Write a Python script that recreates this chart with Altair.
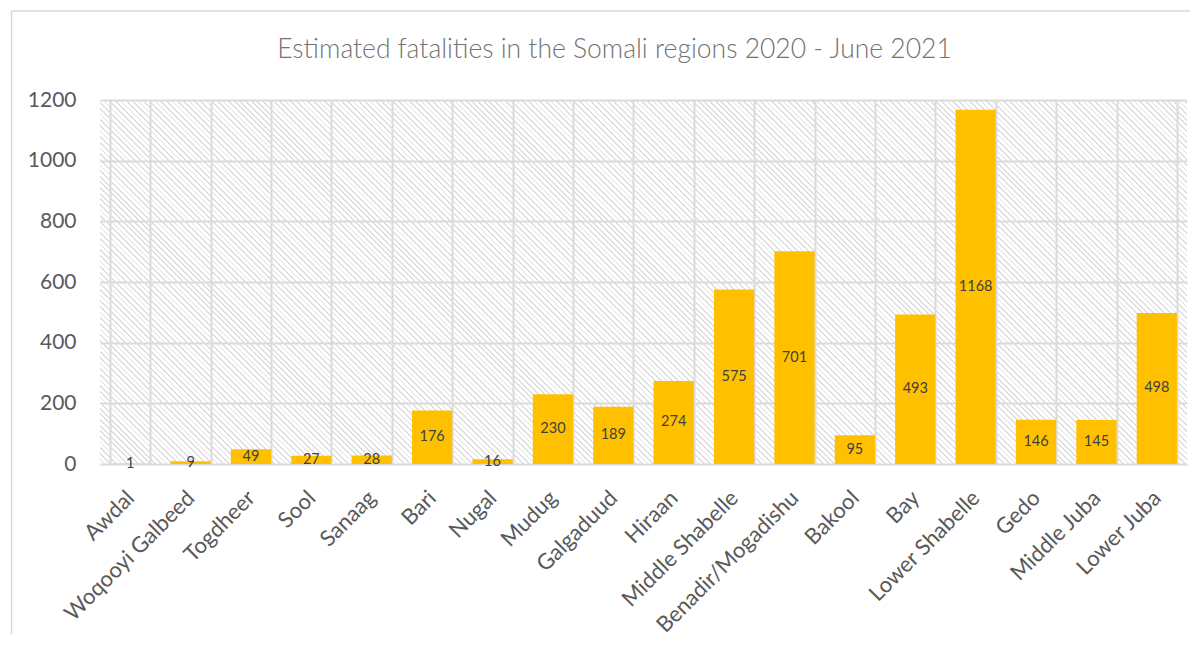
import altair as alt
import pandas as pd

regions = ["Awdal", "Woqooyi Galbeed", "Togdheer", "Sool", "Sanaag", "Bari", "Nugal",
           "Mudug", "Galgaduud", "Hiraan", "Middle Shabelle", "Benadir/Mogadishu",
           "Bakool", "Bay", "Lower Shabelle", "Gedo", "Middle Juba", "Lower Juba"]
fatalities = [1, 9, 49, 27, 28, 176, 16, 230, 189, 274, 575, 701, 95, 493, 1168, 146, 145, 498]
y_ticks = [0, 200, 400, 600, 800, 1000, 1200]
title_text = "Estimated fatalities in the Somali regions 2020 - June 2021"

df = pd.DataFrame({"region": regions, "fatalities": fatalities})

W, H = 1087, 364
GRID = "#d9d9d9"
LABEL = "#595959"
FONT = "Lato"

# hatched background (diagonal stripes) as a linear gradient
r = H / W
k = (1 + r) / (1 + r * r)
ext = 0.2
x1, y1 = -ext * k, 1 + ext * r * k
x2, y2 = (1 + ext) * k, 1 - (1 + ext) * r * k
period_px = 4.0
span_px = (1 + 2 * ext) * (W + H) / 2 ** 0.5
n = int(span_px / period_px)
clear = "rgba(255,255,255,0)"
gray = "#dedede"
stops = []
for i in range(n):
    a = i / n
    b = (i + 0.3) / n
    stops += [alt.GradientStop(color=clear, offset=a),
              alt.GradientStop(color=gray, offset=a),
              alt.GradientStop(color=gray, offset=b),
              alt.GradientStop(color=clear, offset=b)]
stops.append(alt.GradientStop(color=clear, offset=1))
hatch_fill = alt.Gradient(gradient="linear", stops=stops, x1=x1, y1=y1, x2=x2, y2=y2)

one = alt.InlineData(values=[{"a": 1}])

y_scale = alt.Scale(domain=[0, 1200], nice=False)
x_scale = alt.Scale(paddingInner=1 / 3, paddingOuter=1 / 6)

x_axis = alt.Axis(title=None, labelAngle=-45, labelAlign="right", labelBaseline="middle",
                  labelPadding=30, ticks=False, domain=False, grid=True, tickBand="extent",
                  gridColor=GRID, gridWidth=2, labelFont=FONT, labelFontSize=22,
                  labelColor=LABEL, labelOverlap=False, labelLimit=400)
y_axis = alt.Axis(title=None, values=y_ticks, format="d", grid=True, ticks=False, domain=False,
                  gridColor=GRID, gridWidth=2, labelPadding=24, labelFont=FONT,
                  labelFontSize=21, labelColor=LABEL)

hatch = alt.Chart(one).mark_rect(fill=hatch_fill).encode(
    y=alt.YDatum(0, scale=y_scale, axis=y_axis),
    y2=alt.Y2Datum(1200),
)

bars = alt.Chart(df).mark_bar(color="#FFC000").encode(
    x=alt.X("region:N", sort=regions, scale=x_scale, axis=x_axis),
    y=alt.Y("fatalities:Q", scale=y_scale, axis=y_axis),
)

labels = alt.Chart(df).transform_calculate(mid="datum.fatalities / 2").mark_text(
    font=FONT, fontSize=14.5, color="#404040", baseline="middle", align="center"
).encode(
    x=alt.X("region:N", sort=regions, scale=x_scale, axis=x_axis),
    y=alt.Y("mid:Q", scale=y_scale, axis=y_axis),
    text=alt.Text("fatalities:Q"),
)

frame_left = alt.Chart(one).mark_rule(color=GRID, strokeWidth=1.5).encode(
    x=alt.value(-88.5), y=alt.value(-89), y2=alt.value(534)
)
frame_top = alt.Chart(one).mark_rule(color=GRID, strokeWidth=1.5).encode(
    x=alt.value(-88.5), x2=alt.value(1090), y=alt.value(-89)
)

chart = alt.layer(hatch, bars, labels, frame_left, frame_top).properties(
    width=W, height=H,
    title=alt.TitleParams(text=title_text, font=FONT, fontSize=26.5, fontWeight=300,
                          color="#737373", anchor="middle", dx=-29, dy=83, frame="group", offset=30),
    padding={"left": 2, "top": 2, "right": 0, "bottom": 0},
    background="white",
).configure_view(stroke=None)

chart.save("out.html", embed_options={"renderer": "svg", "actions": False})
